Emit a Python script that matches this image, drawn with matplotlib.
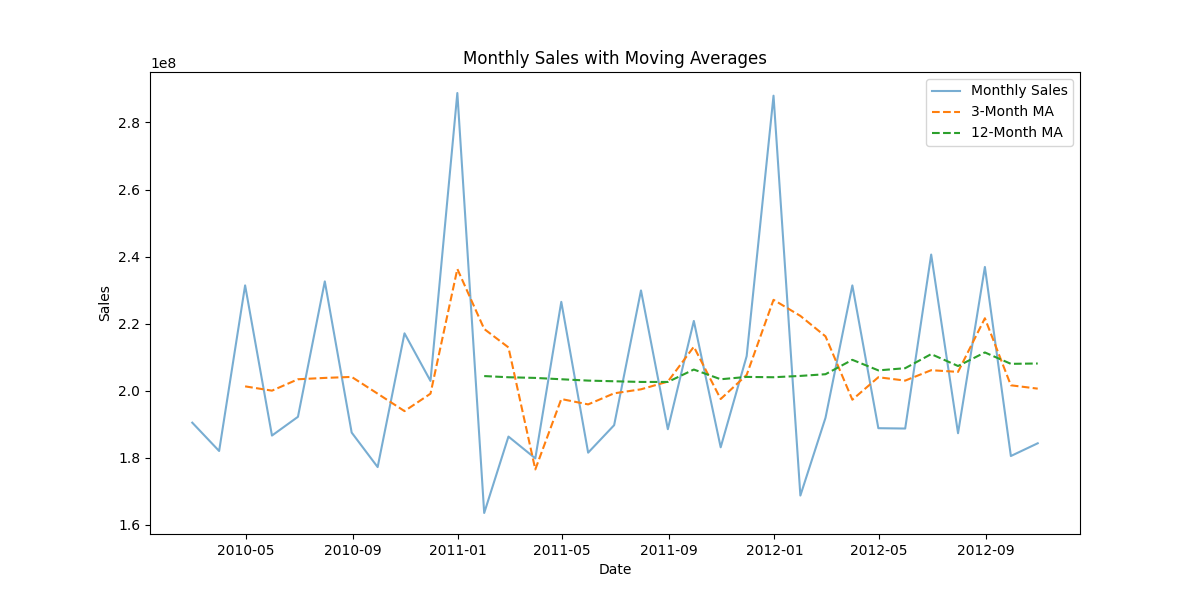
import pandas as pd
import numpy as np
import matplotlib.pyplot as plt

# monthly sales (month-end), values in 1e8
dates = pd.date_range('2010-02-28', periods=33, freq='ME')
sales = [1.9045, 1.820, 2.314, 1.866, 1.922, 2.326, 1.875, 1.772, 2.171, 2.029,
         2.888, 1.635, 1.863, 1.798, 2.265, 1.815, 1.897, 2.299, 1.885, 2.208,
         1.831, 2.103, 2.880, 1.687, 1.919, 2.314, 1.888, 1.887, 2.406, 1.873,
         2.369, 1.805, 1.843]
ma3 = [np.nan, np.nan,
       2.0128, 2.000, 2.034, 2.038, 2.041, 1.991, 1.939, 1.991, 2.363, 2.184,
       2.129, 1.765, 1.975, 1.959, 1.992, 2.004, 2.027, 2.131, 1.975, 2.047,
       2.271, 2.223, 2.162, 1.973, 2.040, 2.030, 2.061, 2.056, 2.216, 2.016,
       2.006]
ma12 = [np.nan] * 11 + [
       2.0435, 2.040, 2.038, 2.034, 2.030, 2.028, 2.026, 2.026, 2.063, 2.034,
       2.041, 2.040, 2.044, 2.049, 2.092, 2.0605, 2.067, 2.109, 2.0735, 2.114,
       2.080, 2.081]

sales = np.array(sales) * 1e8
ma3 = np.array(ma3) * 1e8
ma12 = np.array(ma12) * 1e8

plt.figure(figsize=(12, 6))
plt.plot(dates, sales, label='Monthly Sales', alpha=0.6)
plt.plot(dates, ma3, label='3-Month MA', linestyle='--')
plt.plot(dates, ma12, label='12-Month MA', linestyle='--')
plt.title('Monthly Sales with Moving Averages')
plt.xlabel('Date')
plt.ylabel('Sales')
plt.legend()
plt.savefig('out.png', dpi=100)
